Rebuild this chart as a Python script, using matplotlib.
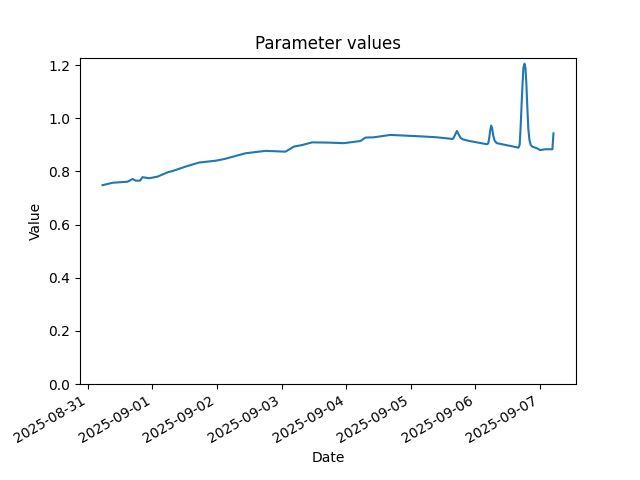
import pandas as pd
import matplotlib
matplotlib.use("Agg")
import matplotlib.pyplot as plt
import matplotlib.dates as mdates

# =============================================================================
# DATA
# =============================================================================
times = [
    "2025-08-31 05:27", "2025-08-31 09:10", "2025-08-31 14:44", "2025-08-31 16:35",
    "2025-08-31 17:48", "2025-08-31 19:24", "2025-08-31 20:17", "2025-08-31 22:44",
    "2025-09-01 01:51", "2025-09-01 05:34", "2025-09-01 08:01", "2025-09-01 12:22",
    "2025-09-01 17:17", "2025-09-01 23:28", "2025-09-02 02:34", "2025-09-02 10:36",
    "2025-09-02 18:01", "2025-09-03 01:26", "2025-09-03 04:32", "2025-09-03 07:38",
    "2025-09-03 11:21", "2025-09-03 17:31", "2025-09-03 23:04", "2025-09-04 05:15",
    "2025-09-04 07:08", "2025-09-04 10:13", "2025-09-04 16:24", "2025-09-04 22:35",
    "2025-09-05 04:45", "2025-09-05 09:43", "2025-09-05 15:17",
    # small peak
    "2025-09-05 15:46", "2025-09-05 16:19", "2025-09-05 17:08", "2025-09-05 17:48",
    "2025-09-05 18:33", "2025-09-05 19:28", "2025-09-05 21:49",
    # medium peak
    "2025-09-06 04:15", "2025-09-06 04:45", "2025-09-06 05:07", "2025-09-06 05:30",
    "2025-09-06 05:51", "2025-09-06 06:14", "2025-09-06 06:36", "2025-09-06 07:09",
    "2025-09-06 07:54", "2025-09-06 12:17", "2025-09-06 15:59",
    # big peak
    "2025-09-06 16:26", "2025-09-06 16:48", "2025-09-06 17:11", "2025-09-06 17:33",
    "2025-09-06 17:50", "2025-09-06 18:13", "2025-09-06 18:35", "2025-09-06 18:55",
    "2025-09-06 19:17", "2025-09-06 19:39", "2025-09-06 20:02", "2025-09-06 20:31",
    "2025-09-06 21:04", "2025-09-06 22:48", "2025-09-07 00:00", "2025-09-07 01:54",
    "2025-09-07 04:36", "2025-09-07 04:59",
]
values = [
    0.748, 0.757, 0.761, 0.771,
    0.765, 0.765, 0.778, 0.774,
    0.780, 0.796, 0.803, 0.818,
    0.833, 0.840, 0.846, 0.868,
    0.877, 0.874, 0.893, 0.899,
    0.909, 0.908, 0.906, 0.914,
    0.927, 0.928, 0.937, 0.934,
    0.931, 0.928, 0.922,
    0.923, 0.935, 0.952, 0.938,
    0.925, 0.920, 0.914,
    0.902, 0.905, 0.925, 0.955,
    0.972, 0.960, 0.935, 0.915,
    0.906, 0.897, 0.889,
    0.900, 0.970, 1.060, 1.140,
    1.190, 1.205, 1.190, 1.130,
    1.040, 0.960, 0.920, 0.900,
    0.893, 0.887, 0.880, 0.883,
    0.883, 0.943,
]

dates = pd.to_datetime(times)

# =============================================================================
# PLOT
# =============================================================================
fig, ax = plt.subplots(figsize=(6.4, 4.8), dpi=100)
ax.plot(dates, values)
ax.set_ylim(bottom=0)

ax.xaxis.set_major_locator(mdates.DayLocator())
ax.xaxis.set_major_formatter(mdates.DateFormatter("%Y-%m-%d"))
fig.autofmt_xdate()

ax.set_title("Parameter values")
ax.set_xlabel("Date")
ax.set_ylabel("Value")

fig.savefig("out.png")
